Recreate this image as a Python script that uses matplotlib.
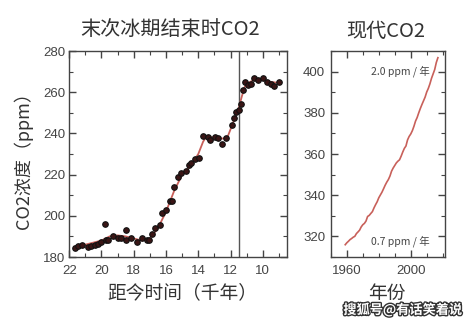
import matplotlib
matplotlib.use("Agg")
import matplotlib.pyplot as plt
import matplotlib.patheffects as pe
from matplotlib.ticker import MultipleLocator, FixedLocator

plt.rcParams['font.family'] = ['Noto Sans CJK SC', 'DejaVu Sans']

# Deglacial CO2 ice-core samples (kyr before present, ppm)
ice_age = [21.65, 21.44, 21.18, 20.82, 20.62, 20.41, 20.20, 20.00, 19.80, 19.69,
           19.60, 19.28, 18.97, 18.76, 18.45, 18.45, 18.20, 17.80, 17.46, 17.20,
           17.05, 16.85, 16.70, 16.39, 16.23, 15.98, 15.77, 15.60, 15.53, 15.26,
           15.05, 14.78, 14.58, 14.43, 14.23, 13.98, 13.71, 13.40, 13.26, 12.99,
           12.78, 12.52, 12.27, 11.90, 11.79, 11.69, 11.48, 11.34, 11.24, 11.09,
           10.93, 10.72, 10.52, 10.31, 10.00, 9.75, 9.48, 9.28, 9.00]
ice_co2 = [184.4, 185.5, 185.8, 184.8, 185.5, 186.0, 186.5, 187.1, 196.1, 188.1,
           188.4, 190.0, 189.2, 189.2, 192.9, 188.4, 189.2, 187.1, 189.0, 188.1,
           188.1, 191.3, 194.0, 195.5, 201.3, 202.6, 207.0, 207.3, 213.9, 219.0,
           221.0, 221.8, 224.7, 225.8, 227.4, 227.9, 238.9, 238.4, 236.8, 238.4,
           238.0, 234.7, 238.0, 244.0, 247.3, 250.5, 251.3, 254.2, 261.3, 265.0,
           263.4, 264.2, 267.1, 265.8, 267.1, 265.0, 264.2, 262.9, 265.0]

# Smoothed fit through the samples
fit_age = [21.7, 21.0, 20.0, 19.5, 19.0, 18.5, 18.0, 17.5, 17.0, 16.5, 16.0, 15.5,
           15.0, 14.5, 14.0, 13.7, 13.5, 13.0, 12.5, 12.2, 12.0, 11.7, 11.5, 11.3,
           11.1, 10.8, 10.5, 10.0, 9.5, 9.0]
fit_co2 = [185.0, 186.0, 188.0, 190.0, 190.5, 190.0, 189.0, 188.0, 189.0, 194.0,
           202.0, 212.0, 220.0, 224.0, 230.0, 236.0, 238.5, 238.0, 237.5, 238.0,
           242.0, 248.0, 252.0, 258.0, 263.0, 265.0, 266.0, 266.0, 265.0, 264.5]

holocene_mark = 11.5

# Modern annual mean CO2 (year, ppm)
years = list(range(1959, 2018))
modern_co2 = [315.97, 316.91, 317.64, 318.45, 318.99, 319.62, 320.04, 321.37, 322.18,
              323.05, 324.62, 325.68, 326.32, 327.46, 329.68, 330.19, 331.13, 332.03,
              333.84, 335.41, 336.84, 338.76, 340.12, 341.48, 343.15, 344.87, 346.35,
              347.61, 349.31, 351.69, 353.20, 354.45, 355.70, 356.54, 357.21, 358.96,
              360.97, 362.74, 363.88, 366.84, 368.54, 369.71, 371.32, 373.45, 375.98,
              377.70, 379.98, 382.09, 384.02, 385.83, 387.64, 390.10, 391.85, 394.06,
              396.74, 398.87, 401.01, 404.41, 406.76]

rate_labels = ["2.0 ppm / 年", "0.7 ppm / 年"]

fig = plt.figure(figsize=(4.74, 3.23), dpi=100)
ax1 = fig.add_axes([0.146, 0.2043, 0.4595, 0.6377])
ax2 = fig.add_axes([0.698, 0.2043, 0.241, 0.6377])

line_red = '#c8605a'
spine_col = '#444444'
tick_col = '#444444'

ax1.plot(fit_age, fit_co2, color=line_red, lw=1.3, zorder=2)
ax1.plot(ice_age, ice_co2, 'o', ms=4.0, mfc='#3a1515', mec='#111111', mew=0.8, zorder=3)
ax1.axvline(holocene_mark, color='#555555', lw=1.0, zorder=1)
ax1.set_xlim(22, 8.5)
ax1.set_ylim(180, 280)
ax1.xaxis.set_major_locator(FixedLocator([22, 20, 18, 16, 14, 12, 10]))
ax1.xaxis.set_minor_locator(MultipleLocator(1))
ax1.yaxis.set_major_locator(MultipleLocator(20))
ax1.yaxis.set_minor_locator(MultipleLocator(10))

ax2.plot(years, modern_co2, color=line_red, lw=1.2)
ax2.set_xlim(1950, 2021.5)
ax2.set_ylim(310, 410)
ax2.xaxis.set_major_locator(FixedLocator([1960, 2000]))
ax2.xaxis.set_minor_locator(MultipleLocator(10))
ax2.yaxis.set_major_locator(MultipleLocator(20))
ax2.yaxis.set_minor_locator(MultipleLocator(10))
ax2.text(1993.3, 400, rate_labels[0], fontsize=7.5, color='#444444', ha='center', va='center')
ax2.text(1993.3, 317.6, rate_labels[1], fontsize=7.5, color='#444444', ha='center', va='center')

for ax, xpad, ypad in ((ax1, 6, 3), (ax2, 6, 4)):
    for s in ax.spines.values():
        s.set_color(spine_col)
        s.set_linewidth(1.0)
    ax.tick_params(which='both', direction='in', top=True, right=True, color=spine_col)
    ax.tick_params(which='major', length=5, width=1.0)
    ax.tick_params(which='minor', length=3, width=0.8)
    ax.tick_params(axis='x', which='major', pad=xpad, labelsize=9.5, labelcolor=tick_col)
    ax.tick_params(axis='y', which='major', pad=ypad, labelsize=9.5, labelcolor=tick_col)
    for lab in ax.get_xticklabels() + ax.get_yticklabels():
        lab.set_family(['Liberation Sans', 'DejaVu Sans'])

W, H = 474, 323
def fx(px):
    return px / W
def fy(py):
    return 1 - py / H

fig.text(fx(170), fy(29), "末次冰期结束时CO2", fontsize=14.5, color='#333333', ha='center', va='center')
fig.text(fx(386), fy(31), "现代CO2", fontsize=14.5, color='#333333', ha='center', va='center')
fig.text(fx(23), fy(156), "CO2浓度（ppm）", fontsize=13, color='#333333', ha='center', va='center', rotation=90)
fig.text(fx(182), fy(293), "距今时间（千年）", fontsize=13.5, color='#333333', ha='center', va='center')
fig.text(fx(387), fy(293), "年份", fontsize=13.5, color='#333333', ha='center', va='center')

fig.text(fx(403), fy(310), "搜狐号@有话笑着说", fontsize=9.5, color='white', ha='center', va='center',
         fontweight='bold',
         path_effects=[pe.withStroke(linewidth=2.0, foreground='#333333')])

fig.savefig("out.png", dpi=100)
